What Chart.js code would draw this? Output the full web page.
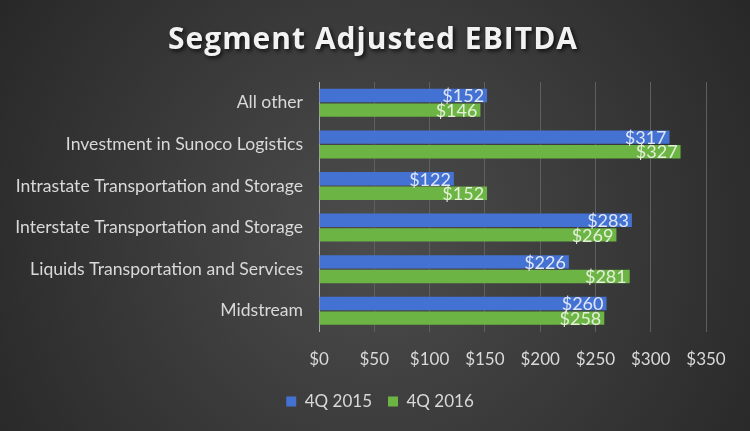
<!DOCTYPE html>
<html>
<head>
<meta charset="utf-8">
<script src="https://cdn.jsdelivr.net/npm/chart.js@4/dist/chart.umd.min.js"></script>
<style>
  html, body { margin: 0; padding: 0; background: #333; }
  #wrap { width: 750px; height: 431px; position: relative; }
</style>
</head>
<body>
<div id="wrap"><canvas id="myChart" width="750" height="431"></canvas></div>
<script>
// categories, top to bottom
var segments = ["All other", "Investment in Sunoco Logistics", "Intrastate Transportation and Storage",
  "Interstate Transportation and Storage", "Liquids Transportation and Services", "Midstream"]
var q2015 = [152, 317, 122, 283, 226, 260]
var q2016 = [146, 327, 152, 269, 281, 258]
var seriesNames = ["4Q 2015", "4Q 2016"]
var xTicks = [0, 50, 100, 150, 200, 250, 300, 350]

/* dark radial background + title with shadow */
const backdrop = {
  id: 'backdrop',
  afterLayout(chart) {
    // nudge the legend so it sits centred under the page, like the original
    const lg = chart.legend
    lg.left += 54
    lg.top -= 11
    lg.bottom -= 11
  },
  beforeDraw(chart) {
    const c = chart.ctx, w = chart.width, h = chart.height
    c.save()
    const g = c.createRadialGradient(w * 0.5, h * 0.55, 20, w * 0.5, h * 0.55, w * 0.62)
    g.addColorStop(0, '#4b4b4b')
    g.addColorStop(1, '#262626')
    c.fillStyle = g
    c.fillRect(0, 0, w, h)
    c.font = 'bold 30px "Open Sans"'
    c.letterSpacing = '1px'
    c.textAlign = 'center'
    c.textBaseline = 'middle'
    c.shadowColor = 'rgba(0,0,0,0.8)'
    c.shadowBlur = 4
    c.shadowOffsetX = 2
    c.shadowOffsetY = 2
    c.fillStyle = '#f2f2f2'
    c.fillText('Segment Adjusted EBITDA', 373, 40)
    c.restore()
  }
}

/* value labels at the inner end of each bar */
const barLabels = {
  id: 'barLabels',
  afterDatasetsDraw(chart) {
    const c = chart.ctx
    c.save()
    c.font = '18px Lato'
    c.textAlign = 'right'
    c.textBaseline = 'middle'
    chart.data.datasets.forEach((ds, i) => {
      const meta = chart.getDatasetMeta(i)
      c.fillStyle = i == 0 ? '#dfe6f7' : '#e3f0d8'
      meta.data.forEach((bar, j) => {
        c.fillText('$' + ds.data[j], bar.x - 3, bar.y + 1)
      })
    })
    c.restore()
  }
}

const data = {
  labels: segments,
  datasets: [{
    label: seriesNames[0],
    data: q2015,
    backgroundColor: '#4472d2',
    borderWidth: 0
  }, {
    label: seriesNames[1],
    data: q2016,
    backgroundColor: '#6cb443',
    borderWidth: 0
  }]
}

const config = {
  type: 'bar',
  data: data,
  options: {
    indexAxis: 'y',
    responsive: false,
    animation: false,
    layout: { padding: { top: 82, right: 44, left: 0, bottom: 0 } },
    datasets: { bar: { barPercentage: 0.92, categoryPercentage: 0.7 } },
    scales: {
      x: {
        min: 0, max: 350,
        afterBuildTicks(scale) { scale.ticks = xTicks.map(v => ({ value: v })) },
        grid: {
          color: ctx => ctx.index == 0 ? '#a8a8a8' : '#5f5f5f',
          lineWidth: 1,
          drawTicks: false
        },
        border: { display: false },
        ticks: {
          color: '#d9d9d9',
          font: { family: 'Lato', size: 17 },
          padding: 18,
          callback: v => '$' + v
        }
      },
      y: {
        grid: { display: false, drawTicks: false },
        border: { display: true, color: '#a8a8a8' },
        afterFit(scale) { scale.width = 319 },
        ticks: {
          color: '#d9d9d9',
          font: { family: 'Lato', size: 17.6 },
          padding: 16
        }
      }
    },
    plugins: {
      legend: {
        position: 'bottom',
        labels: {
          color: '#d9d9d9',
          font: { family: 'Lato', size: 17 },
          boxWidth: 10,
          boxHeight: 10,
          padding: 16
        }
      },
      tooltip: { enabled: false }
    }
  },
  plugins: [backdrop, barLabels]
}

const myChart = new Chart(document.getElementById('myChart'), config)
</script>
</body>
</html>
